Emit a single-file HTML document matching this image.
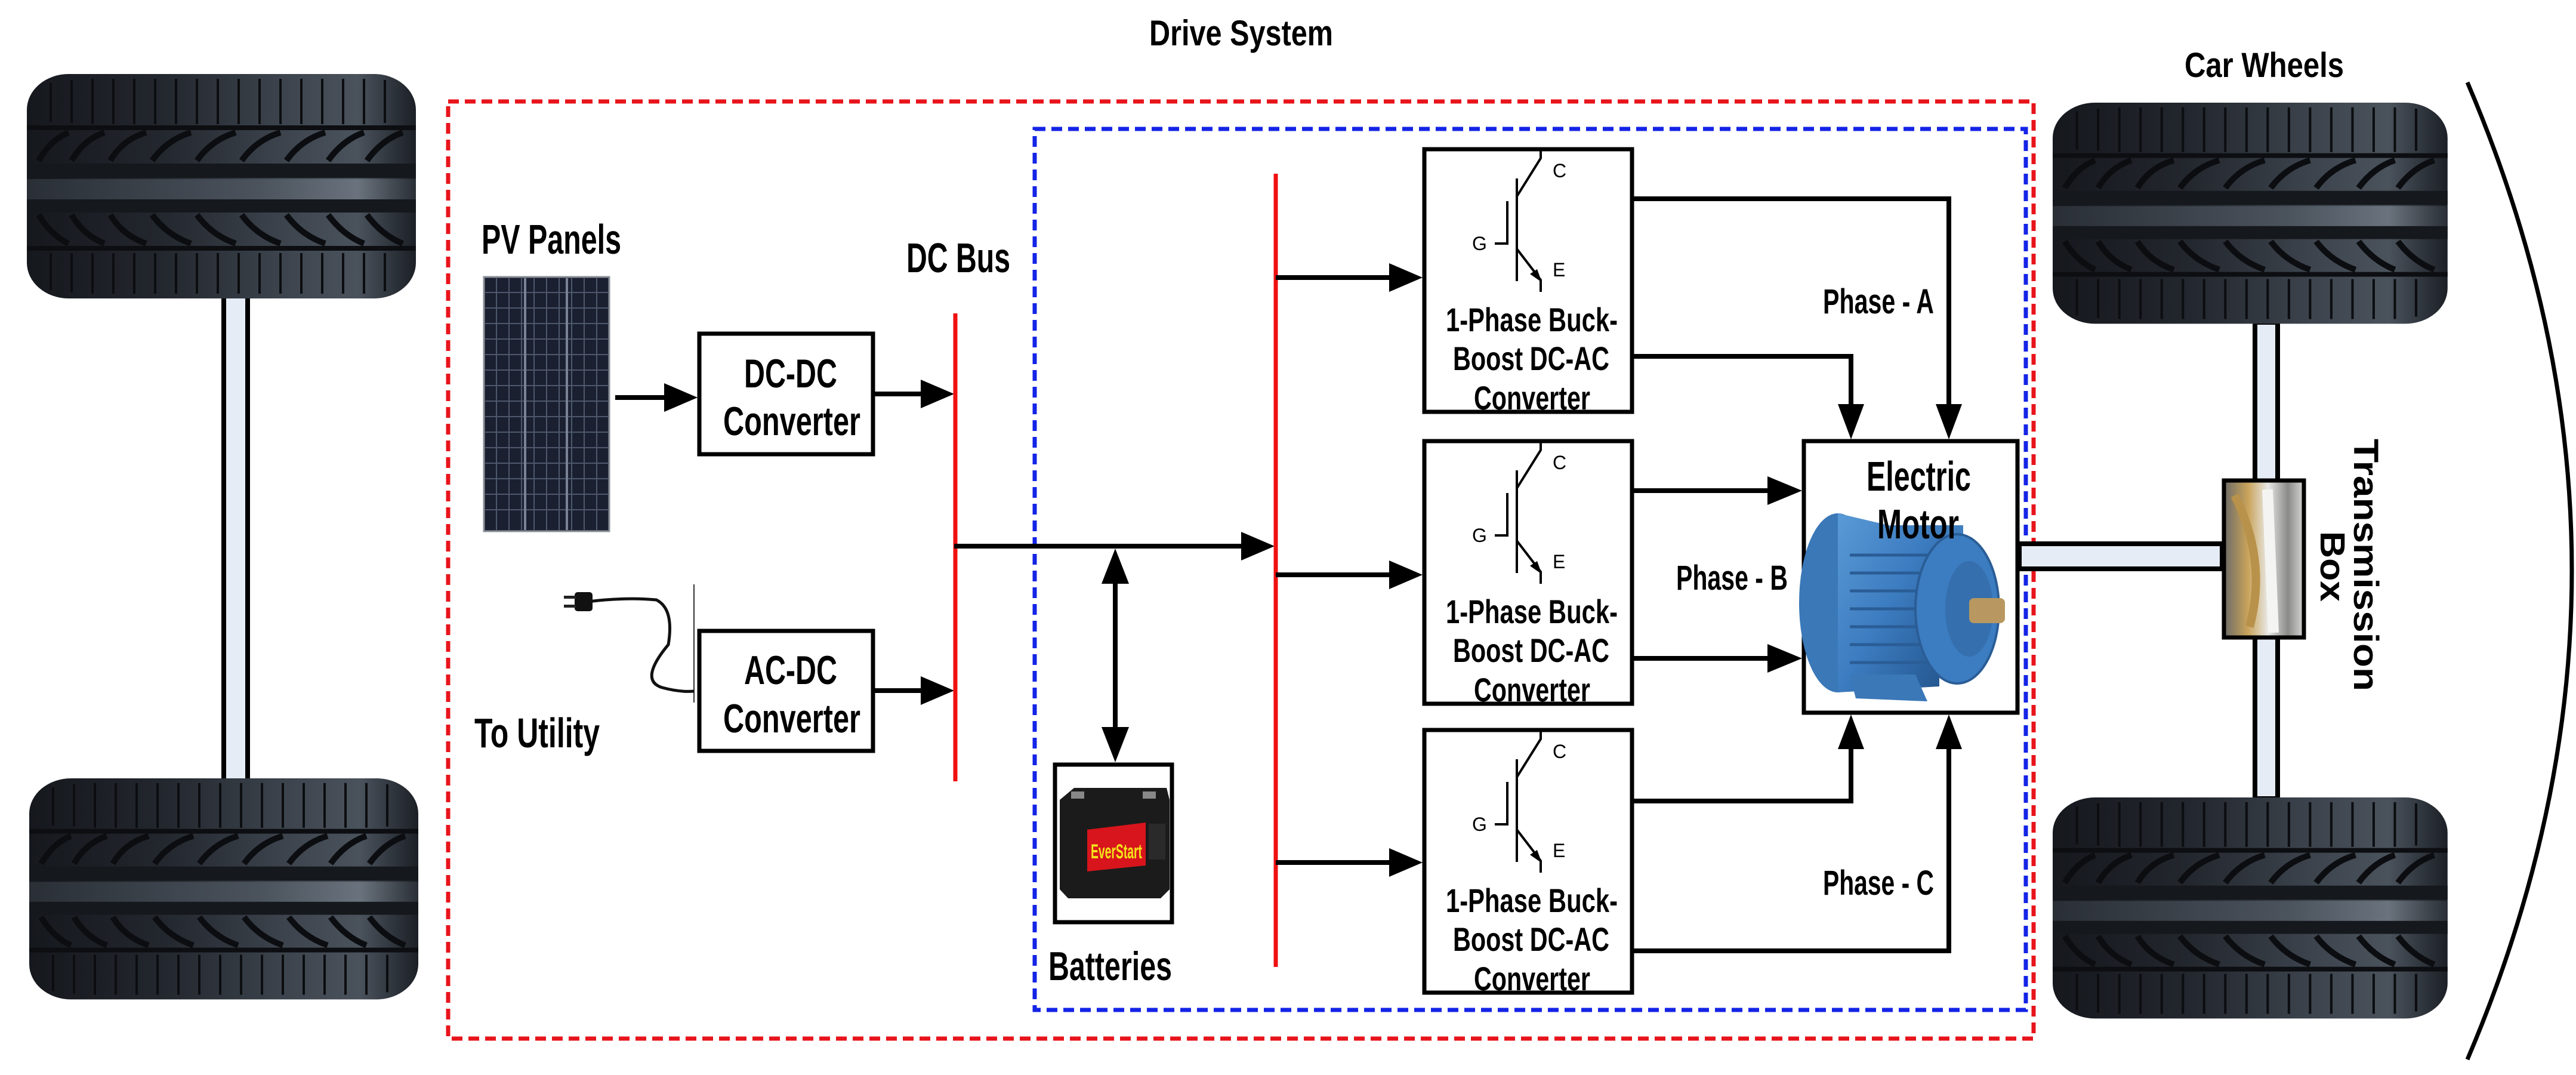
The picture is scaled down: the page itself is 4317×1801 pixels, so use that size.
<!DOCTYPE html>
<html><head><meta charset="utf-8"><style>
html,body{margin:0;padding:0;background:#fff;}
svg{display:block;}
text{font-family:"Liberation Sans",sans-serif;font-weight:bold;fill:#000;}
</style></head><body>
<svg width="4317" height="1801" viewBox="0 0 4317 1801" xmlns="http://www.w3.org/2000/svg">
<defs>
<linearGradient id="tg" x1="0" y1="0" x2="1" y2="0">
<stop offset="0" stop-color="#15181d"/><stop offset="0.35" stop-color="#23272e"/><stop offset="0.65" stop-color="#3c434c"/><stop offset="0.85" stop-color="#4a525c"/><stop offset="1" stop-color="#1c2026"/>
</linearGradient>
<linearGradient id="tgc" x1="0" y1="0" x2="1" y2="0">
<stop offset="0" stop-color="#2a2f36"/><stop offset="0.6" stop-color="#4b535d"/><stop offset="0.85" stop-color="#6a737d"/><stop offset="1" stop-color="#2a2f36"/>
</linearGradient>
<linearGradient id="mg" x1="0" y1="0" x2="1" y2="1">
<stop offset="0" stop-color="#5a9ad6"/><stop offset="0.5" stop-color="#3c7cc0"/><stop offset="1" stop-color="#24578f"/>
</linearGradient>
<linearGradient id="gg" x1="0" y1="0" x2="1" y2="0">
<stop offset="0" stop-color="#6b6b68"/><stop offset="0.3" stop-color="#c9a35a"/><stop offset="0.55" stop-color="#e8e8e6"/><stop offset="0.8" stop-color="#8a8a88"/><stop offset="1" stop-color="#d8d8d6"/>
</linearGradient>
<g id="tire">
<rect x="0" y="0" width="652" height="376" rx="70" ry="60" fill="url(#tg)"/>
<rect x="0" y="86" width="652" height="8" fill="#0c0e11"/>
<rect x="0" y="150" width="652" height="24" fill="#15181c"/>
<rect x="0" y="176" width="652" height="34" fill="url(#tgc)"/>
<rect x="0" y="210" width="652" height="22" fill="#15181c"/>
<rect x="0" y="288" width="652" height="8" fill="#0c0e11"/>
<g stroke="#0b0d10" stroke-width="4">
<path d="M40 15V80M75 10V82M110 8V84M145 8V84M180 8V84M215 8V84M250 8V84M285 8V84M320 8V84M355 8V84M390 8V84M425 8V84M460 8V84M495 8V84M530 8V84M565 8V84M600 10V82"/>
<path d="M40 300V362M75 300V366M110 300V368M145 300V368M180 300V368M215 300V368M250 300V368M285 300V368M320 300V368M355 300V368M390 300V368M425 300V368M460 300V368M495 300V368M530 300V368M565 300V368M600 300V364"/>
</g>
<g stroke="#0b0d10" stroke-width="10" fill="none">
<path d="M20 145Q40 110 70 98M75 145Q95 110 130 98M140 145Q160 110 200 98M210 145Q235 110 275 98M285 145Q310 110 350 98M360 145Q385 110 425 98M435 145Q460 110 500 98M505 145Q530 110 565 98M570 145Q595 110 630 98"/>
<path d="M20 236Q40 270 70 284M75 236Q95 270 130 284M140 236Q160 270 200 284M210 236Q235 270 275 284M285 236Q310 270 350 284M360 236Q385 270 425 284M435 236Q460 270 500 284M505 236Q530 270 565 284M570 236Q595 270 630 284"/>
</g>
</g>
</defs>

<!-- Title -->
<text x="1926" y="76" font-size="60" textLength="308" lengthAdjust="spacingAndGlyphs">Drive System</text>

<!-- Left axle & tires -->
<rect x="375" y="494" width="40" height="815" fill="#e6ecf6" stroke="#000" stroke-width="8"/>
<use href="#tire" transform="translate(45,124)"/>
<use href="#tire" transform="translate(49,1304) scale(1,0.985)"/>

<!-- Right axle & tires -->
<rect x="3779" y="540" width="38" height="798" fill="#e6ecf6" stroke="#000" stroke-width="8"/>
<use href="#tire" transform="translate(3440,172) scale(1.015,0.985)"/>
<use href="#tire" transform="translate(3440,1336) scale(1.015,0.985)"/>
<text x="3661" y="129" font-size="58" textLength="267" lengthAdjust="spacingAndGlyphs">Car Wheels</text>

<!-- Arc -->
<path d="M4135 138 Q4485 955 4135 1775" fill="none" stroke="#000" stroke-width="7"/>

<!-- Dashed boxes -->
<rect x="751" y="170" width="2657" height="1570" fill="none" stroke="#e8141c" stroke-width="7" stroke-dasharray="18,10"/>
<rect x="1734" y="216" width="1661" height="1476" fill="none" stroke="#1424e6" stroke-width="7" stroke-dasharray="18,10"/>

<!-- PV Panels -->
<text x="807" y="425" font-size="70" textLength="234" lengthAdjust="spacingAndGlyphs">PV Panels</text>
<rect x="811" y="464" width="210" height="426" fill="#1a2030" stroke="#8a8f98" stroke-width="3"/>
<g stroke="#4e586c" stroke-width="2">
<path d="M832 466V888M853 466V888M874 466V888M895 466V888M916 466V888M937 466V888M958 466V888M979 466V888M1000 466V888"/>
<path d="M813 490H1019M813 516H1019M813 542H1019M813 568H1019M813 594H1019M813 620H1019M813 646H1019M813 672H1019M813 698H1019M813 724H1019M813 750H1019M813 776H1019M813 802H1019M813 828H1019M813 854H1019"/>
</g>
<path d="M880 466V888M950 466V888" stroke="#7a8296" stroke-width="4"/>

<!-- DC-DC converter -->
<line x1="1031" y1="666" x2="1120" y2="666" stroke="#000" stroke-width="8"/>
<polygon points="1113,642 1169,666 1113,690" fill="#000"/>
<rect x="1172" y="559" width="291" height="202" fill="#fff" stroke="#000" stroke-width="7"/>
<text x="1247" y="649" font-size="68" textLength="156" lengthAdjust="spacingAndGlyphs">DC-DC</text>
<text x="1212" y="729" font-size="68" textLength="230" lengthAdjust="spacingAndGlyphs">Converter</text>
<line x1="1466" y1="660" x2="1550" y2="660" stroke="#000" stroke-width="8"/>
<polygon points="1543,636 1599,660 1543,684" fill="#000"/>

<!-- Plug -->
<line x1="1163" y1="979" x2="1163" y2="1177" stroke="#333" stroke-width="2"/>
<path d="M985 1008 Q1050 1000 1100 1005 Q1130 1020 1120 1080 Q1070 1140 1110 1152 Q1140 1160 1163 1158" fill="none" stroke="#111" stroke-width="5"/>
<rect x="963" y="992" width="30" height="32" rx="5" fill="#111"/>
<rect x="945" y="998" width="20" height="5" fill="#222"/>
<rect x="945" y="1013" width="20" height="5" fill="#222"/>
<text x="795" y="1252" font-size="70" textLength="210" lengthAdjust="spacingAndGlyphs">To Utility</text>

<!-- AC-DC converter -->
<rect x="1172" y="1057" width="291" height="201" fill="#fff" stroke="#000" stroke-width="7"/>
<text x="1247" y="1146" font-size="68" textLength="156" lengthAdjust="spacingAndGlyphs">AC-DC</text>
<text x="1212" y="1227" font-size="68" textLength="230" lengthAdjust="spacingAndGlyphs">Converter</text>
<line x1="1466" y1="1157" x2="1550" y2="1157" stroke="#000" stroke-width="8"/>
<polygon points="1543,1133 1599,1157 1543,1181" fill="#000"/>

<!-- DC Bus -->
<text x="1519" y="456" font-size="70" textLength="174" lengthAdjust="spacingAndGlyphs">DC Bus</text>
<line x1="1601" y1="525" x2="1601" y2="1309" stroke="#f01010" stroke-width="7"/>
<line x1="1599" y1="915" x2="2090" y2="915" stroke="#000" stroke-width="8"/>
<polygon points="2080,891 2136,915 2080,939" fill="#000"/>

<!-- Battery -->
<line x1="1869" y1="960" x2="1869" y2="1235" stroke="#000" stroke-width="8"/>
<polygon points="1869,919 1846,978 1892,978" fill="#000"/>
<polygon points="1869,1277 1846,1218 1892,1218" fill="#000"/>
<rect x="1768" y="1281" width="196" height="264" fill="#fff" stroke="#000" stroke-width="7"/>
<path d="M1776 1340 L1800 1320 L1955 1320 L1960 1340 L1960 1490 L1945 1505 L1790 1505 L1776 1490 Z" fill="#1b1b1b"/>
<rect x="1795" y="1326" width="22" height="12" fill="#888"/>
<rect x="1915" y="1326" width="22" height="12" fill="#888"/>
<path d="M1822 1390 L1920 1378 L1920 1450 L1822 1460 Z" fill="#d8141c"/>
<text x="1828" y="1438" font-size="34" fill="#f2e21a" style="fill:#f2e21a" textLength="86" lengthAdjust="spacingAndGlyphs">EverStart</text>
<rect x="1925" y="1380" width="28" height="60" fill="#2a2a2a"/>
<text x="1757" y="1642" font-size="68" textLength="207" lengthAdjust="spacingAndGlyphs">Batteries</text>

<!-- Second bus -->
<line x1="2138" y1="291" x2="2138" y2="1620" stroke="#f01010" stroke-width="7"/>
<line x1="2138" y1="465" x2="2330" y2="465" stroke="#000" stroke-width="8"/>
<polygon points="2328,441 2384,465 2328,489" fill="#000"/>
<line x1="2138" y1="963" x2="2330" y2="963" stroke="#000" stroke-width="8"/>
<polygon points="2328,939 2384,963 2328,987" fill="#000"/>
<line x1="2138" y1="1445" x2="2330" y2="1445" stroke="#000" stroke-width="8"/>
<polygon points="2328,1421 2384,1445 2328,1469" fill="#000"/>

<!-- Converter boxes -->
<g id="conv1" transform="translate(2384,247)">
<rect x="3" y="3" width="348" height="440" fill="#fff" stroke="#000" stroke-width="7"/>
<g stroke="#000" stroke-width="4" fill="none">
<path d="M142 90V161H121"/>
<path d="M158 52V224"/>
<path d="M158 82L198 18V4"/>
<path d="M158 170L198 222V242"/>
</g>
<polygon points="200,226 180,212 192,204" fill="#000"/>
<text x="83" y="172" font-size="32" font-weight="normal" style="font-weight:normal">G</text>
<text x="218" y="50" font-size="32" style="font-weight:normal">C</text>
<text x="218" y="216" font-size="32" style="font-weight:normal">E</text>
<text x="39" y="308" font-size="56" textLength="288" lengthAdjust="spacingAndGlyphs">1-Phase Buck-</text>
<text x="51" y="373" font-size="56" textLength="262" lengthAdjust="spacingAndGlyphs">Boost DC-AC</text>
<text x="86" y="439" font-size="56" textLength="195" lengthAdjust="spacingAndGlyphs">Converter</text>
</g>
<use href="#conv1" transform="translate(0,489)"/>
<use href="#conv1" transform="translate(0,973)"/>

<!-- Phase connections -->
<g stroke="#000" stroke-width="8" fill="none">
<path d="M2738 333H3266V690"/>
<path d="M2738 597H3102V690"/>
<path d="M2738 822H2970"/>
<path d="M2738 1103H2970"/>
<path d="M2738 1342H3102V1245"/>
<path d="M2738 1593H3266V1245"/>
</g>
<polygon points="3244,677 3266,736 3288,677" fill="#000"/>
<polygon points="3080,677 3102,736 3124,677" fill="#000"/>
<polygon points="2962,798 3020,822 2962,846" fill="#000"/>
<polygon points="2962,1079 3020,1103 2962,1127" fill="#000"/>
<polygon points="3080,1255 3102,1197 3124,1255" fill="#000"/>
<polygon points="3244,1255 3266,1197 3288,1255" fill="#000"/>
<text x="3055" y="525" font-size="58" textLength="186" lengthAdjust="spacingAndGlyphs">Phase - A</text>
<text x="2809" y="988" font-size="58" textLength="187" lengthAdjust="spacingAndGlyphs">Phase - B</text>
<text x="3055" y="1499" font-size="58" textLength="186" lengthAdjust="spacingAndGlyphs">Phase - C</text>

<!-- Motor -->
<rect x="3023" y="739" width="358" height="455" fill="#fff" stroke="#000" stroke-width="7"/>
<rect x="3170" y="880" width="120" height="90" fill="#3f7fc0"/>
<ellipse cx="3080" cy="1010" rx="65" ry="150" fill="#3a78b8"/>
<path d="M3080 860 L3250 900 L3250 1150 L3080 1160 Z" fill="url(#mg)"/>
<g stroke="#2a5d96" stroke-width="5"><path d="M3100 930H3240M3100 960H3240M3100 990H3240M3100 1020H3240M3100 1050H3240M3100 1080H3240M3100 1110H3240"/></g>
<ellipse cx="3280" cy="1020" rx="70" ry="125" fill="#3c7cc0" stroke="#2a5d96" stroke-width="4"/>
<ellipse cx="3300" cy="1020" rx="40" ry="80" fill="#356fae"/>
<rect x="3300" y="1002" width="60" height="42" rx="8" fill="#b89860"/>
<path d="M3100 1130 L3210 1130 L3230 1175 L3110 1170 Z" fill="#3a78b8"/>
<text x="3128" y="822" font-size="70" textLength="175" lengthAdjust="spacingAndGlyphs">Electric</text>
<text x="3146" y="902" font-size="70" textLength="137" lengthAdjust="spacingAndGlyphs">Motor</text>

<!-- Shaft -->
<rect x="3384" y="911" width="340" height="42" fill="#e6ecf6" stroke="#000" stroke-width="8"/>

<!-- Transmission box -->
<rect x="3727" y="805" width="134" height="263" fill="url(#gg)" stroke="#000" stroke-width="7"/>
<path d="M3745 830 Q3800 940 3770 1050" fill="none" stroke="#b8924a" stroke-width="14"/>
<path d="M3800 820 L3810 1060" stroke="#f4f4f2" stroke-width="18"/>
<text transform="translate(3945,735) rotate(90)" font-size="58" textLength="423" lengthAdjust="spacingAndGlyphs">Transmission</text>
<text transform="translate(3889,890) rotate(90)" font-size="58" textLength="118" lengthAdjust="spacingAndGlyphs">Box</text>
</svg>
</body></html>
